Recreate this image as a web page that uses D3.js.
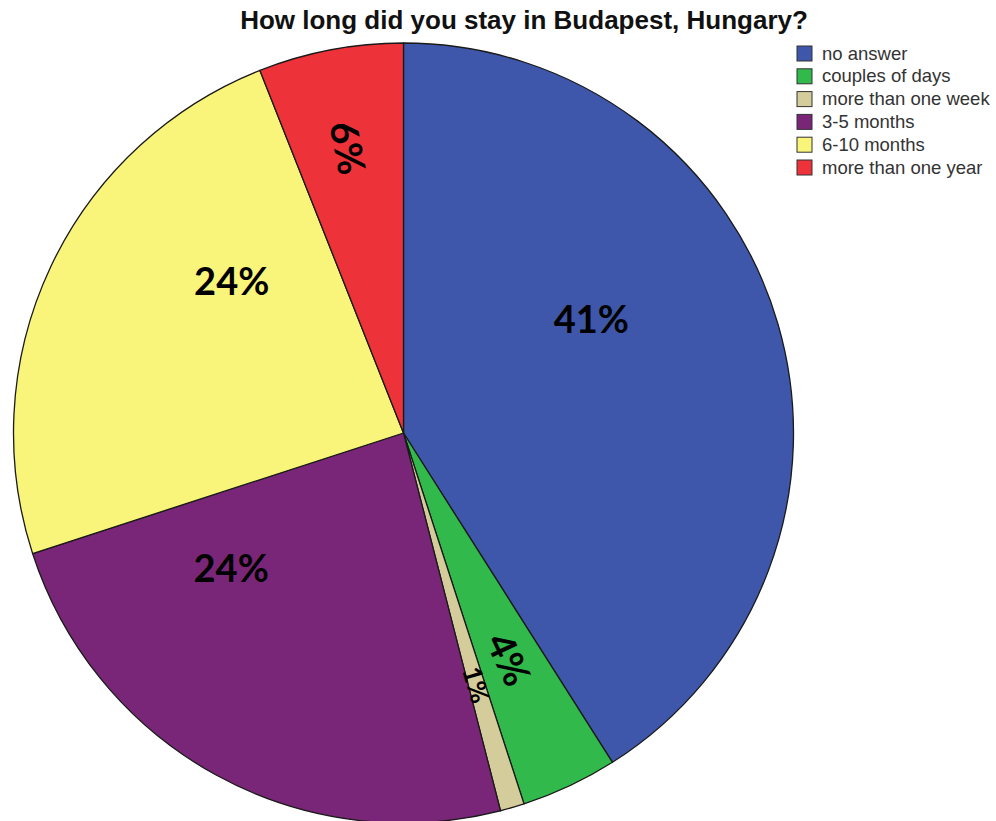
<!DOCTYPE html>
<html>
<head>
<meta charset="utf-8">
<script src="https://cdn.jsdelivr.net/npm/d3@7"></script>
<style>
  html, body { margin: 0; padding: 0; background: #ffffff; }
  svg { display: block; }
</style>
</head>
<body>
<svg id="chart" width="996" height="821"></svg>
<script>
// Survey answers: share of respondents (percent) for each length of stay
const categories = ["no answer", "couples of days", "more than one week", "3-5 months", "6-10 months", "more than one year"];
const percents = [41, 4, 1, 24, 24, 6];
const sliceColors = ["#3e57aa", "#31b94b", "#d5cc9b", "#7a2678", "#f9f57a", "#ee3239"];

const titleText = "How long did you stay in Budapest, Hungary?";

const width = 996, height = 821;
const cx = 403.5, cy = 433, radius = 390;

const svg = d3.select("#chart");

// Title
svg.append("text")
  .attr("x", 524)
  .attr("y", 29)
  .attr("text-anchor", "middle")
  .attr("font-family", "'Liberation Sans', Arial, sans-serif")
  .attr("font-weight", "bold")
  .attr("font-size", 26)
  .attr("fill", "#111")
  .text(titleText);

const rows = categories.map((c, i) => ({ name: c, value: percents[i], color: sliceColors[i], i }));

const pie = d3.pie().sort(null).value(d => d.value);
const arcs = pie(rows);
const arc = d3.arc().innerRadius(0).outerRadius(radius);

const g = svg.append("g").attr("transform", `translate(${cx},${cy})`);

g.selectAll("path.slice")
  .data(arcs)
  .join("path")
  .attr("class", "slice")
  .attr("d", arc)
  .attr("fill", d => d.data.color)
  .attr("stroke", "#1a1a1a")
  .attr("stroke-width", 1.3)
  .attr("stroke-linejoin", "round");

// Label placement: angular shift from slice middle (deg), distance as share of radius, size
const labelShift = [-15.3, 0, 0, 23.3, 16.5, 0];
const labelDist = [0.565, 0.64, 0.672, 0.56, 0.59, 0.745];
const labelSize = [38, 38, 26, 38, 38, 38];

g.selectAll("text.val")
  .data(arcs)
  .join("text")
  .attr("class", "val")
  .attr("text-anchor", "middle")
  .attr("dominant-baseline", "central")
  .attr("font-family", "Lato, 'Open Sans', sans-serif")
  .attr("font-weight", "bold")
  .attr("font-size", (d, i) => labelSize[i])
  .attr("fill", "#000")
  .attr("transform", (d, i) => {
    const midDeg = (d.startAngle + d.endAngle) / 2 * 180 / Math.PI + labelShift[i];
    const a = midDeg * Math.PI / 180;
    const r = radius * labelDist[i];
    const x = r * Math.sin(a), y = -r * Math.cos(a);
    // narrow slices get text turned along the radius
    let rot = 0;
    if (d.value < 10) {
      rot = midDeg - 90;
      while (rot > 90) rot -= 180;
      while (rot <= -90) rot += 180;
    }
    return `translate(${x},${y}) rotate(${rot})`;
  })
  .text(d => d.value + "%");

// Legend
const legend = svg.append("g").attr("transform", "translate(797,46)");
const item = legend.selectAll("g.item")
  .data(rows)
  .join("g")
  .attr("class", "item")
  .attr("transform", d => `translate(0,${d.i * 22.8})`);

item.append("rect")
  .attr("width", 15)
  .attr("height", 15)
  .attr("fill", d => d.color)
  .attr("stroke", "#333")
  .attr("stroke-width", 1);

item.append("text")
  .attr("x", 25)
  .attr("y", 13.5)
  .attr("font-family", "'Liberation Sans', Arial, sans-serif")
  .attr("font-size", 18.5)
  .attr("fill", "#333")
  .text(d => d.name);
</script>
</body>
</html>
